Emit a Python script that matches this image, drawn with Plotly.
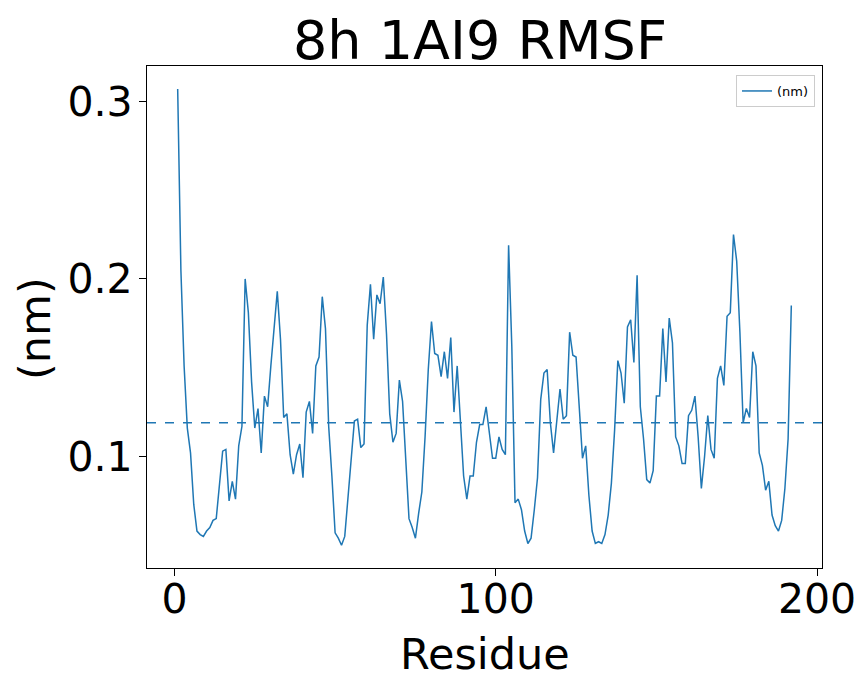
import plotly.graph_objects as go

# Residue numbers (1..192) and RMSF values (nm)
residues = list(range(1, 193))
rmsf_nm = [
    0.307, 0.205, 0.151, 0.116, 0.102, 0.073, 0.058, 0.056, 0.055, 0.058,
    0.060, 0.064, 0.065, 0.086, 0.103, 0.104, 0.075, 0.086, 0.076, 0.106,
    0.117, 0.200, 0.181, 0.142, 0.116, 0.127, 0.102, 0.134, 0.128, 0.151,
    0.170, 0.193, 0.166, 0.122, 0.124, 0.101, 0.090, 0.101, 0.107, 0.088,
    0.125, 0.131, 0.113, 0.151, 0.156, 0.190, 0.172, 0.117, 0.089, 0.057,
    0.054, 0.050, 0.055, 0.076, 0.098, 0.120, 0.121, 0.105, 0.107, 0.174,
    0.197, 0.166, 0.191, 0.186, 0.201, 0.169, 0.124, 0.108, 0.113, 0.143,
    0.131, 0.095, 0.065, 0.060, 0.054, 0.068, 0.080, 0.111, 0.149, 0.176,
    0.158, 0.157, 0.145, 0.159, 0.144, 0.167, 0.125, 0.151, 0.119, 0.089,
    0.076, 0.089, 0.089, 0.108, 0.118, 0.118, 0.128, 0.113, 0.099, 0.099,
    0.111, 0.104, 0.101, 0.219, 0.162, 0.074, 0.076, 0.070, 0.058, 0.051,
    0.054, 0.070, 0.088, 0.132, 0.147, 0.149, 0.119, 0.102, 0.119, 0.138,
    0.121, 0.123, 0.170, 0.157, 0.156, 0.130, 0.099, 0.106, 0.078, 0.058,
    0.051, 0.052, 0.051, 0.056, 0.067, 0.085, 0.115, 0.154, 0.147, 0.130,
    0.173, 0.177, 0.153, 0.202, 0.128, 0.110, 0.087, 0.085, 0.092, 0.134,
    0.134, 0.172, 0.142, 0.178, 0.164, 0.111, 0.106, 0.096, 0.096, 0.123,
    0.126, 0.134, 0.111, 0.082, 0.100, 0.123, 0.104, 0.099, 0.144, 0.151,
    0.140, 0.179, 0.181, 0.225, 0.210, 0.170, 0.119, 0.127, 0.122, 0.159,
    0.151, 0.102, 0.095, 0.081, 0.086, 0.067, 0.061, 0.058, 0.064, 0.082,
    0.110, 0.185,
]
mean_rmsf = 0.119

x_ticks = [0, 100, 200]
y_ticks = [0.1, 0.2, 0.3]
y_tick_labels = ["0.1", "0.2", "0.3"]

color = "#1f77b4"
font = "DejaVu Sans"

fig = go.Figure()
fig.add_trace(go.Scatter(
    x=residues, y=rmsf_nm, mode="lines", name="(nm)",
    line=dict(color=color, width=1.5),
))
fig.add_hline(y=mean_rmsf, line=dict(color=color, width=1.3, dash="dash"))

axis_common = dict(
    showgrid=False, zeroline=False, showline=True, linecolor="black",
    linewidth=1.2, mirror=True, ticks="outside", ticklen=7, tickwidth=1.2,
    tickcolor="black", tickfont=dict(family=font, size=41, color="black"),
    automargin=False,
)

# page body has an 8px margin, so the figure is sized/offset accordingly
W, H = 855, 666
L, T, PW, PH = 139, 58, 675, 502

fig.update_layout(
    width=W, height=H,
    margin=dict(l=L, r=W - L - PW, t=T, b=H - T - PH, autoexpand=False),
    paper_bgcolor="white", plot_bgcolor="white",
    title=dict(text="8h 1AI9 RMSF", x=472 / W, xanchor="center",
               y=1 - 32 / H, yanchor="middle", yref="container",
               font=dict(family=font, size=54, color="black")),
    xaxis=dict(range=[-8.55, 201.55], tickvals=x_ticks,
               ticklabelstandoff=-12, **axis_common),
    yaxis=dict(range=[0.0372, 0.3199], tickvals=y_ticks, ticktext=y_tick_labels,
               ticklabelstandoff=-2, **axis_common),
    legend=dict(x=(807 - L) / PW, y=1 - 9 / PH, xanchor="right", yanchor="top",
                bgcolor="rgba(255,255,255,0.8)", bordercolor="#cccccc",
                borderwidth=1, font=dict(family=font, size=13, color="black")),
    showlegend=True,
    annotations=[
        dict(text="Residue", xref="paper", yref="paper", x=0.5,
             y=-(646 - (T + PH)) / PH, xanchor="center", yanchor="middle",
             showarrow=False, font=dict(family=font, size=43, color="black")),
        dict(text="(nm)", xref="paper", yref="paper", x=(27 - L) / PW,
             y=1 - (321 - T) / PH, xanchor="center", yanchor="middle",
             textangle=-90, showarrow=False,
             font=dict(family=font, size=43, color="black")),
    ],
)

fig.write_html("out.html")
